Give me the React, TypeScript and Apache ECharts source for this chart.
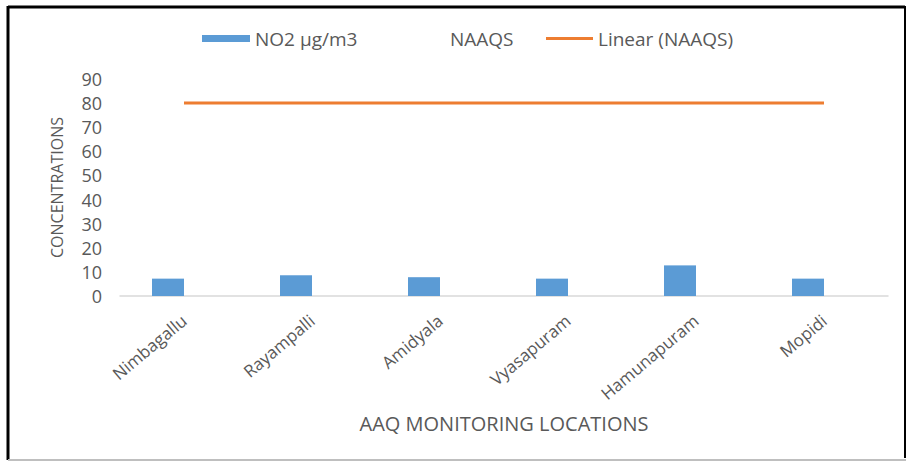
import React, { useEffect, useRef } from "react";
import * as echarts from "echarts";

const categories = ["Nimbagallu", "Rayampalli", "Amidyala", "Vyasapuram", "Hamunapuram", "Mopidi"];
const no2Values = [7.2, 8.6, 7.8, 7.2, 12.7, 7.2];
const naaqsValues = [80, 80, 80, 80, 80, 80];
const linearValues = [80, 80, 80, 80, 80, 80];
const yTicks = { min: 0, max: 90, interval: 10 };

const FONT = "'Open Sans', 'Noto Sans', sans-serif";
const TXT = "#595959";

export default function App() {
  const ref = useRef<HTMLDivElement>(null);
  useEffect(() => {
    if (!ref.current) return;
    const chart = echarts.init(ref.current, undefined, { renderer: "svg" });
    chart.setOption({
      animation: false,
      backgroundColor: "#ffffff",
      textStyle: { fontFamily: FONT, color: TXT },
      legend: [
        {
          data: ["NO2 µg/m3"],
          left: 197,
          top: 24,
          itemWidth: 48,
          itemHeight: 7,
          icon: "rect",
          textStyle: { fontFamily: FONT, fontSize: 19, color: TXT },
        },
        {
          data: ["NAAQS"],
          left: 392,
          top: 24,
          itemWidth: 48,
          itemHeight: 7,
          icon: "rect",
          textStyle: { fontFamily: FONT, fontSize: 19, color: TXT },
        },
        {
          data: ["Linear (NAAQS)"],
          left: 541,
          top: 24,
          itemWidth: 47,
          itemHeight: 3,
          icon: "rect",
          textStyle: { fontFamily: FONT, fontSize: 19, color: TXT },
        },
      ],
      grid: { left: 120, right: 19, top: 79, bottom: 166, containLabel: false },
      xAxis: {
        type: "category",
        data: categories,
        name: "AAQ MONITORING LOCATIONS",
        nameLocation: "middle",
        nameGap: 117,
        nameTextStyle: { fontFamily: FONT, fontSize: 20, color: TXT },
        axisLine: { lineStyle: { color: "#D9D9D9", width: 1.5 } },
        axisTick: { show: false },
        axisLabel: { rotate: 40, fontFamily: FONT, fontSize: 17, color: TXT, margin: 22 },
        splitLine: { show: false },
      },
      yAxis: {
        type: "value",
        min: yTicks.min,
        max: yTicks.max,
        interval: yTicks.interval,
        name: "CONCENTRATIONS",
        nameLocation: "middle",
        nameGap: 55,
        nameTextStyle: { fontFamily: FONT, fontSize: 16, color: TXT },
        axisLine: { show: false },
        axisTick: { show: false },
        splitLine: { show: false },
        axisLabel: { fontFamily: FONT, fontSize: 18, color: TXT, margin: 18 },
      },
      series: [
        {
          name: "NO2 µg/m3",
          type: "bar",
          data: no2Values,
          barWidth: 32,
          barGap: "0%",
          itemStyle: { color: "#5B9BD5" },
        },
        {
          name: "NAAQS",
          type: "bar",
          data: naaqsValues,
          barWidth: 32,
          barGap: "0%",
          itemStyle: { color: "rgba(0,0,0,0)" },
        },
        {
          name: "Linear (NAAQS)",
          type: "line",
          data: linearValues,
          symbol: "none",
          lineStyle: { color: "#ED7D31", width: 3 },
          itemStyle: { color: "#ED7D31" },
        },
      ],
      graphic: [
        { type: "line", shape: { x1: 8, y1: 7, x2: 905, y2: 7 }, style: { stroke: "#000", lineWidth: 3 } },
        { type: "line", shape: { x1: 8, y1: 6, x2: 8, y2: 460 }, style: { stroke: "#000", lineWidth: 3 } },
        { type: "line", shape: { x1: 905, y1: 6, x2: 905, y2: 458 }, style: { stroke: "#000", lineWidth: 2 } },
        { type: "line", shape: { x1: 8, y1: 460, x2: 906, y2: 460 }, style: { stroke: "#BFBFBF", lineWidth: 2 } },
      ],
    });
    return () => chart.dispose();
  }, []);
  return (
    <div
      ref={ref}
      style={{ position: "fixed", left: 0, top: 0, width: 907, height: 462 }}
    />
  );
}
